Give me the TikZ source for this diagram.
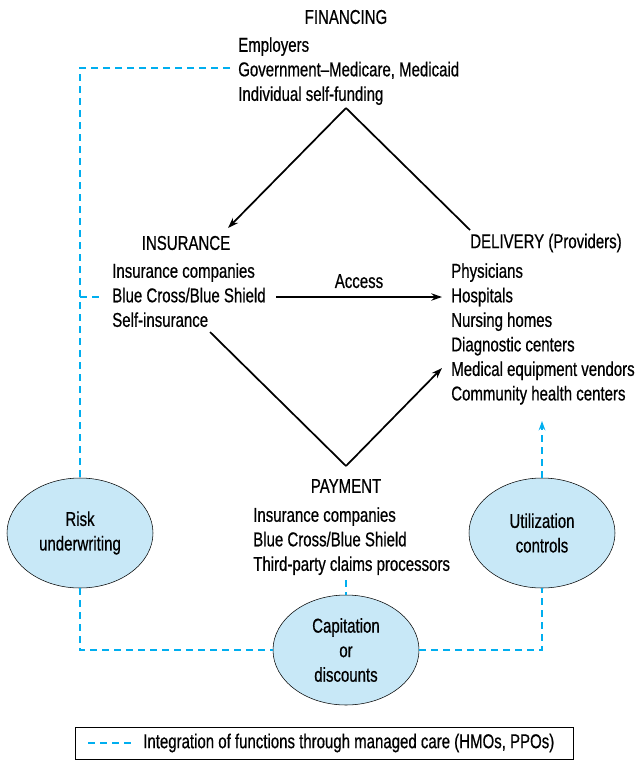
\documentclass[tikz,border=0pt]{standalone}
\usepackage{fontspec}
\setmainfont{Liberation Sans}[FakeStretch=0.75,FakeBold=0.6]
\usetikzlibrary{shapes.geometric,arrows.meta}
\definecolor{mcblue}{RGB}{0,174,239}
\definecolor{mcfill}{RGB}{200,232,247}

\begin{document}
\begin{tikzpicture}[x=0.75pt,y=-0.75pt,
    txt/.style={font=\fontsize{15}{18.4}\selectfont},
    head/.style={txt,inner sep=0pt},
    list/.style={txt,align=left,anchor=north west,inner sep=0pt},
    bubble/.style={txt,ellipse,draw,thin,fill=mcfill,align=center,
      minimum width=109.5pt,minimum height=82.5pt,inner sep=0pt},
    flow/.style={line width=1.3pt,-{Stealth[length=8pt,width=5.5pt]}},
    mc/.style={draw=mcblue,line width=1.3pt,dash pattern=on 5.2pt off 3.8pt}]
  \useasboundingbox (0,0) rectangle (638,760);
  % financing
  \node[head] (fin) at (346,17) {FINANCING};
  \node[list] (finl) at (238,37) {Employers\\Government--Medicare, Medicaid\\Individual self-funding};
  % insurance
  \node[head] (ins) at (186,243) {INSURANCE};
  \node[list] (insl) at (112,263) {Insurance companies\\Blue Cross/Blue Shield\\Self-insurance};
  % delivery
  \node[head,anchor=west] (del) at (470,243) {DELIVERY (Providers)};
  \node[list] (dell) at (451,263) {Physicians\\Hospitals\\Nursing homes\\Diagnostic centers\\Medical equipment vendors\\Community health centers};
  % payment
  \node[head] (pay) at (346,486) {PAYMENT};
  \node[list] (payl) at (253,507) {Insurance companies\\Blue Cross/Blue Shield\\Third-party claims processors};
  % managed care functions
  \node[bubble] (risk) at (80,533) {Risk\\underwriting};
  \node[bubble] (util) at (542,533) {Utilization\\controls};
  \node[bubble] (cap) at (346,650) {Capitation\\or\\discounts};

  % money and access flows
  \coordinate (top) at (346,108);
  \coordinate (insin) at (228,228);
  \coordinate (delin) at (470,230);
  \coordinate (selfins) at (210,332);
  \coordinate (bot) at (346,466);
  \coordinate (medeq) at (442,368);
  \draw[flow] (top) -- (insin);
  \draw[line width=1.3pt] (top) -- (delin);
  \draw[line width=1.3pt] (selfins) -- (bot);
  \draw[flow] (bot) -- (medeq);
  \draw[flow] (276,297) coordinate (acc0) -- (442,297) coordinate (acc1)
    node[midway,above=6pt,txt,inner sep=0pt] (acc) {Access};

  % integration through managed care
  \coordinate (govt) at (230,68);
  \coordinate (bcbs) at (100,297);
  \draw[mc] (govt) -| (risk.north);
  \draw[mc] (80,297) -- (bcbs);
  \draw[mc] (risk.south) |- (cap.west);
  \draw[mc] (cap.east) -| (util.south);
  \draw[mc] (346,580) coordinate (payend) -- (cap.north);
  \draw[mc,-{Stealth[length=7pt,width=5pt]}] (util.north) -- (542,421) coordinate (dellend);

  % key
  \node[txt,anchor=west,inner sep=0pt] (keytxt) at (143,743) {Integration of functions through managed care (HMOs, PPOs)};
  \draw[mc] (88,743) -- ([xshift=-6pt]keytxt.west);
  \draw[thin] (75,727) rectangle (573,759);
\end{tikzpicture}
\end{document}
